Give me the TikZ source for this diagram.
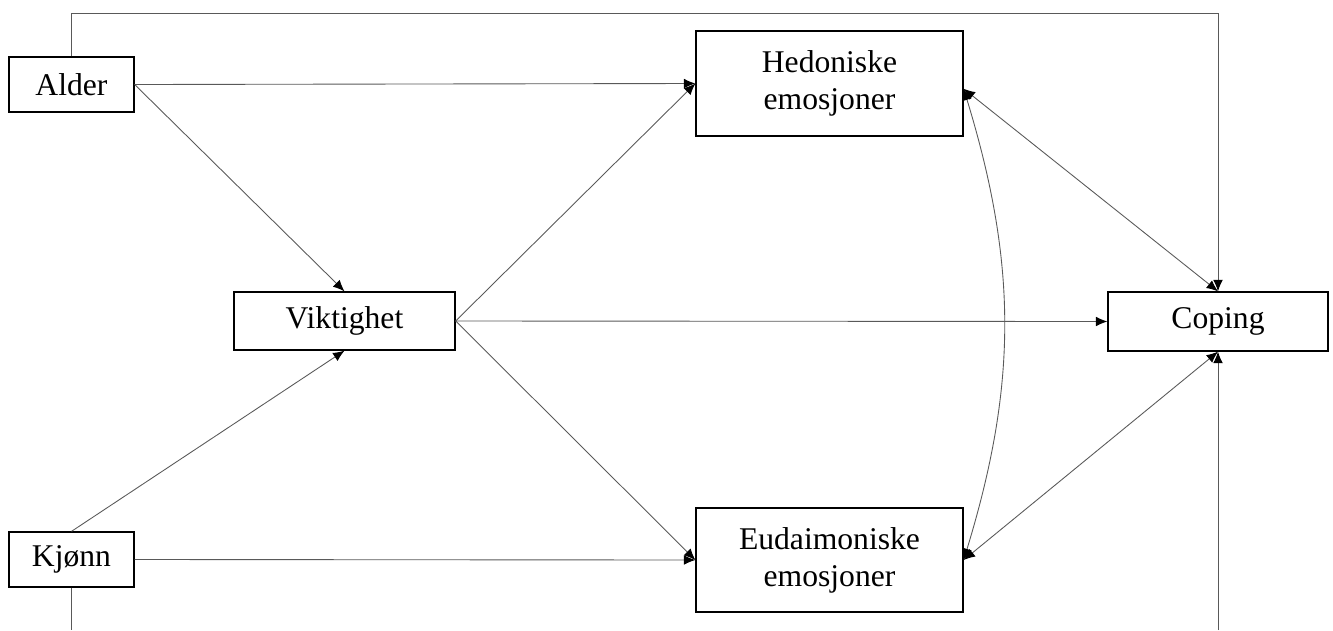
\documentclass[tikz,border=0pt]{standalone}
\usepackage{fontspec}
\setmainfont{Liberation Serif}
\usetikzlibrary{arrows.meta}
\begin{document}
\begin{tikzpicture}[x=0.02cm,y=-0.02cm,
  box/.style={draw=black,line width=0.75pt,fill=white,align=center,inner sep=0pt,font=\fontsize{18}{21}\selectfont},
  conn/.style={draw=black!65,line width=0.5pt},
  tip/.tip={Latex[length=6.5pt,width=5.5pt,fill=black,color=black]},
  arr/.style={conn,-tip},
  darr/.style={conn,tip-tip}]
\useasboundingbox (0,0) rectangle (1333,630);
\node[box,minimum width=125*0.02cm,minimum height=55*0.02cm] (alder) at (71.5,84.5) {Alder};
\node[box,minimum width=125*0.02cm,minimum height=55*0.02cm] (kjonn) at (71.5,559.5) {Kjønn};
\node[box,minimum width=221*0.02cm,minimum height=58*0.02cm] (vikt) at (344.5,321) {Viktighet};
\node[box,minimum width=267*0.02cm,minimum height=105*0.02cm] (hed) at (829.5,83.5) {Hedoniske\\emosjoner};
\node[box,minimum width=267*0.02cm,minimum height=104*0.02cm] (eud) at (829.5,560) {Eudaimoniske\\emosjoner};
\node[box,minimum width=220*0.02cm,minimum height=59*0.02cm] (cop) at (1218,321.5) {Coping};
\coordinate (tl) at (71.5,13);
\coordinate (tr) at (1218,13);
\coordinate (bl) at (71.5,630);
\coordinate (br) at (1218,630);
% connectors
\draw[arr] (alder.east) -- (hed.west);
\draw[arr] (alder.east) -- (vikt.north);
\draw[arr] (kjonn.north) -- (vikt.south);
\draw[arr] (kjonn.east) -- (eud.west);
\draw[arr] (vikt.east) -- (hed.west);
\draw[arr] (vikt.east) -- (eud.west);
\draw[arr] (vikt.east) -- (cop.west);
\draw[darr] ([yshift=-3]hed.east) -- (cop.north);
\draw[darr] (eud.east) -- (cop.south);
\draw[darr] ([yshift=-3]hed.east) to[bend left=17] (eud.east);
\draw[arr] (alder.north) -- (tl) -- (tr) -- (cop.north);
\draw[conn] (kjonn.south) -- (bl);
\draw[arr] (br) -- (cop.south);
\end{tikzpicture}
\end{document}
